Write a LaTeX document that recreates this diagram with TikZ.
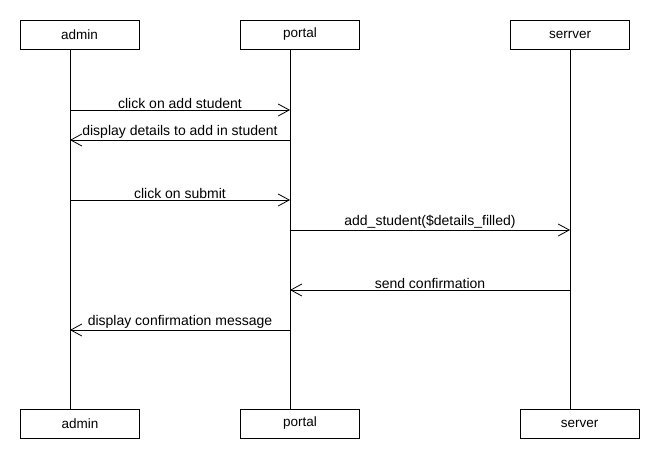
\documentclass[tikz,border=0pt]{standalone}
\usepackage{fontspec}
\setmainfont{Liberation Sans}
\usetikzlibrary{arrows.meta}
\begin{document}
\begin{tikzpicture}[x=1pt,y=-1pt,
  actor/.style={draw,line width=0.9pt,minimum width=119pt,minimum height=29pt,inner sep=0pt,font=\fontsize{13.5}{15}\selectfont},
  life/.style={line width=0.9pt},
  msg/.style={line width=0.9pt,-{Straight Barb[length=11pt,width=12pt,line width=0.8pt]}},
  lbl/.style={font=\fontsize{14}{16}\selectfont,inner sep=1pt,anchor=south}]
\useasboundingbox[fill=white] (0,0) rectangle (660,460);
% top boxes
\node[actor] (at) at (79.5,34.5) {admin};
\node[actor] (pt) at (300,34.5) {portal};
\node[actor] (st) at (570,34.5) {serrver};
% bottom boxes
\node[actor] (ab) at (80,423.5) {admin};
\node[actor] (pb) at (300,423.5) {portal};
\node[actor] (sb) at (579.5,423.5) {server};
% lifeline coordinates
\coordinate (a0) at (70,49);  \coordinate (a9) at (70,409);
\coordinate (p0) at (290,49); \coordinate (p9) at (290,409);
\coordinate (s0) at (570,49); \coordinate (s9) at (570,409);
\draw[life] (a0) -- (a9);
\draw[life] (p0) -- (p9);
\draw[life] (s0) -- (s9);
% message points
\coordinate (a1) at (70,110); \coordinate (p1) at (290,110);
\coordinate (a2) at (70,140); \coordinate (p2) at (290,140);
\coordinate (a3) at (70,200); \coordinate (p3) at (290,200);
\coordinate (p4) at (290,230); \coordinate (s4) at (570,230);
\coordinate (p5) at (290,290); \coordinate (s5) at (570,290);
\coordinate (a6) at (70,330); \coordinate (p6) at (290,330);
\draw[msg] (a1) -- (p1) node[lbl,midway] {click on add student};
\draw[msg] (p2) -- (a2) node[lbl,midway] {display details to add in student};
\draw[msg] (a3) -- (p3) node[lbl,midway] {click on submit};
\draw[msg] (p4) -- (s4) node[lbl,midway] {add\_student(\$details\_filled)};
\draw[msg] (s5) -- (p5) node[lbl,midway] {send confirmation};
\draw[msg] (p6) -- (a6) node[lbl,midway] {display confirmation message};
\end{tikzpicture}
\end{document}
